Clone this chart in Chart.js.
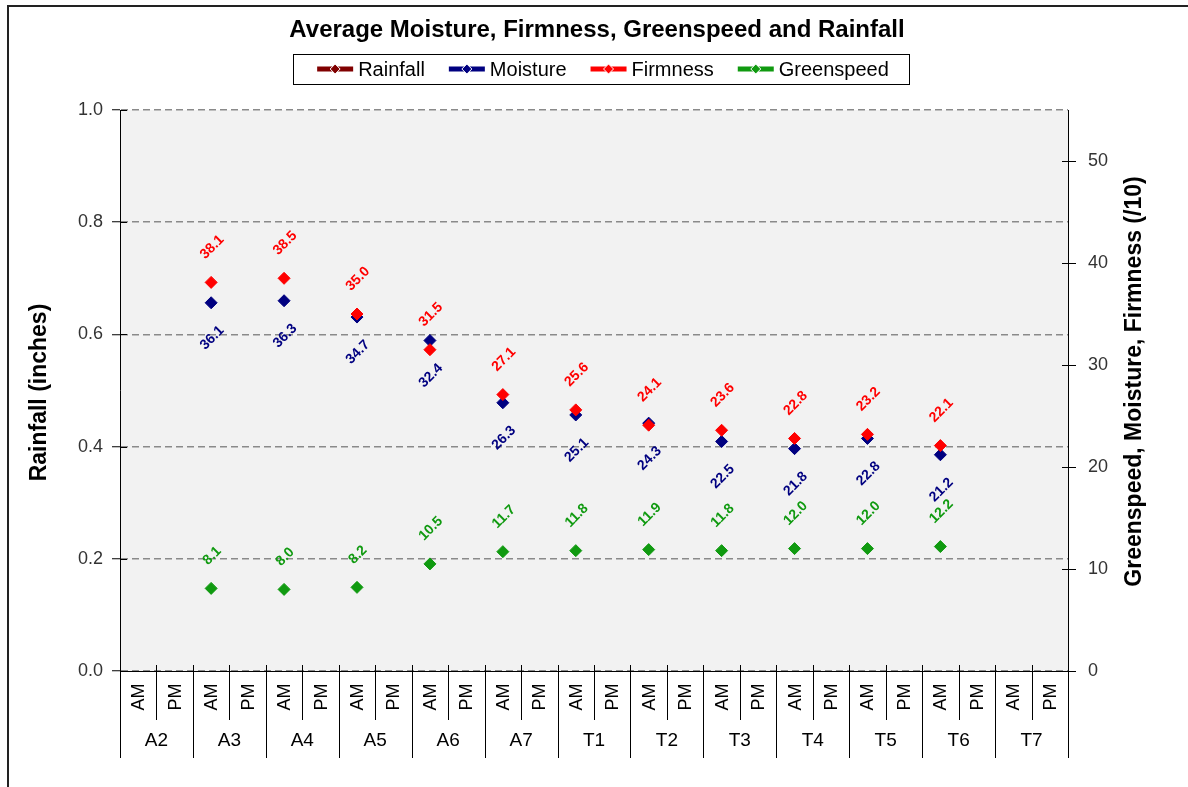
<!DOCTYPE html>
<html><head><meta charset="utf-8">
<script src="https://cdn.jsdelivr.net/npm/chart.js@4.4.1/dist/chart.umd.min.js"></script>
<style>html,body{margin:0;padding:0;background:#fff}canvas{display:block}</style>
</head><body>
<canvas id="c" width="1188" height="787"></canvas>
<script>
// ---------- DATA ----------
const groups = ['A2','A3','A4','A5','A6','A7','T1','T2','T3','T4','T5','T6','T7'];
const sessions = ['AM','PM'];
const rainfallAM   = [null,null,null,null,null,null,null,null,null,null,null,null,null];
const rainfallPM   = [null,null,null,null,null,null,null,null,null,null,null,null,null];
const moistureAM   = [null,36.1,36.3,34.7,32.4,26.3,25.1,24.3,22.5,21.8,22.8,21.2,null];
const moisturePM   = [null,null,null,null,null,null,null,null,null,null,null,null,null];
const firmnessAM   = [null,38.1,38.5,35.0,31.5,27.1,25.6,24.1,23.6,22.8,23.2,22.1,null];
const firmnessPM   = [null,null,null,null,null,null,null,null,null,null,null,null,null];
const greenspeedAM = [null,8.1,8.0,8.2,10.5,11.7,11.8,11.9,11.8,12.0,12.0,12.2,null];
const greenspeedPM = [null,null,null,null,null,null,null,null,null,null,null,null,null];
const leftTicks  = [0, 0.2, 0.4, 0.6, 0.8, 1.0];
const rightTicks = [0, 10, 20, 30, 40, 50];
const chartTitle = 'Average Moisture, Firmness, Greenspeed and Rainfall';
const leftTitle  = 'Rainfall (inches)';
const rightTitle = 'Greenspeed, Moisture, Firmness (/10)';

// ---------- BUILD ----------
const labels = groups.flatMap(g => sessions.map(s => g + ' ' + s));
const merge = (am, pm) => groups.flatMap((g, i) => [am[i], pm[i]]);
const FONT = '"Liberation Sans", Arial, sans-serif';

function series(label, data, axis, color, order, labelSide) {
  return {
    label, data, yAxisID: axis, order,
    type: 'line', showLine: false,
    borderColor: color, backgroundColor: color,
    pointStyle: 'rectRot', pointRadius: 6, pointHoverRadius: 6,
    pointBackgroundColor: color, pointBorderColor: color, pointBorderWidth: 1,
    labelSide
  };
}
const datasets = [
  series('Rainfall',   merge(rainfallAM, rainfallPM),     'y',  '#800000', 0, null),
  series('Moisture',   merge(moistureAM, moisturePM),     'y2', '#000080', 3, 'below'),
  series('Firmness',   merge(firmnessAM, firmnessPM),     'y2', '#FF0000', 2, 'above'),
  series('Greenspeed', merge(greenspeedAM, greenspeedPM), 'y2', '#109A10', 1, 'above')
];

const deco = {
  id: 'deco',
  beforeDraw(chart) {
    const {ctx, chartArea: a} = chart;
    ctx.save();
    ctx.fillStyle = '#ffffff';
    ctx.fillRect(0, 0, chart.width, chart.height);
    ctx.fillStyle = '#f2f2f2';
    ctx.fillRect(a.left, a.top, a.right - a.left, a.bottom - a.top);
    ctx.restore();
  },
  afterDatasetsDraw(chart) {
    const ctx = chart.ctx;
    ctx.save();
    ctx.font = 'bold 14px ' + FONT;
    ctx.textAlign = 'center';
    ctx.textBaseline = 'middle';
    chart.data.datasets.forEach((ds, di) => {
      if (!ds.labelSide) return;
      const meta = chart.getDatasetMeta(di);
      meta.data.forEach((pt, i) => {
        const v = ds.data[i];
        if (v === null || v === undefined) return;
        const txt = v.toFixed(1);
        const w = ctx.measureText(txt).width;
        const half = (w + 10) * Math.SQRT1_2 / 2;
        const off = 22 + half;
        const cy = ds.labelSide === 'above' ? pt.y - off : pt.y + off;
        ctx.save();
        ctx.translate(pt.x + 1, cy);
        ctx.rotate(-Math.PI / 4);
        ctx.fillStyle = ds.borderColor;
        ctx.fillText(txt, 0, 0);
        ctx.restore();
      });
    });
    ctx.restore();
  },
  afterDraw(chart) {
    const {ctx, chartArea: a} = chart;
    const xs = chart.scales.x;
    const n = labels.length;
    const half = (xs.getPixelForValue(1) - xs.getPixelForValue(0)) / 2;
    ctx.save();
    // tick marks crossing into the plot
    ctx.strokeStyle = '#000';
    ctx.lineWidth = 1;
    leftTicks.forEach(v => {
      const y = Math.round(chart.scales.y.getPixelForValue(v)) + 0.5;
      ctx.beginPath(); ctx.moveTo(a.left, y); ctx.lineTo(a.left + 7, y); ctx.stroke();
    });
    rightTicks.forEach(v => {
      const y = Math.round(chart.scales.y2.getPixelForValue(v)) + 0.5;
      ctx.beginPath(); ctx.moveTo(a.right - 6, y); ctx.lineTo(a.right, y); ctx.stroke();
    });
    // category boundaries
    for (let i = 0; i <= n; i++) {
      const bx = Math.round(i < n ? xs.getPixelForValue(i) - half : xs.getPixelForValue(n - 1) + half) + 0.5;
      const isGroup = i % 2 === 0;
      ctx.beginPath();
      ctx.moveTo(bx, a.bottom - 6);
      ctx.lineTo(bx, a.bottom + (isGroup ? 87 : 49));
      ctx.stroke();
    }
    // AM / PM
    ctx.fillStyle = '#000';
    ctx.font = '18px ' + FONT;
    ctx.textAlign = 'center';
    ctx.textBaseline = 'middle';
    labels.forEach((lab, i) => {
      const x = xs.getPixelForValue(i);
      ctx.save();
      ctx.translate(x + 1, a.bottom + 26);
      ctx.rotate(-Math.PI / 2);
      ctx.fillText(sessions[i % 2], 0, 0);
      ctx.restore();
    });
    // groups
    ctx.font = '19px ' + FONT;
    groups.forEach((g, gi) => {
      const x = (xs.getPixelForValue(gi * 2) + xs.getPixelForValue(gi * 2 + 1)) / 2;
      ctx.fillText(g, x, a.bottom + 70);
    });
    // title
    ctx.font = 'bold 24px ' + FONT;
    ctx.fillText(chartTitle, 597, 30);
    // axis titles
    ctx.font = 'bold 23px ' + FONT;
    ctx.save();
    ctx.translate(40, (a.top + a.bottom) / 2 + 2);
    ctx.rotate(-Math.PI / 2);
    ctx.fillText(leftTitle, 0, 0);
    ctx.restore();
    ctx.save();
    ctx.translate(1135, (a.top + a.bottom) / 2 - 9);
    ctx.rotate(-Math.PI / 2);
    ctx.fillText(rightTitle, 0, 0);
    ctx.restore();
    // legend
    ctx.font = '20px ' + FONT;
    const iconW = 40, gapIcon = 3, gapItem = 22;
    const items = chart.data.datasets.map(ds => ({text: ds.label, color: ds.borderColor, w: ctx.measureText(ds.label).width}));
    const total = items.reduce((s, it) => s + iconW + gapIcon + it.w, 0) + gapItem * (items.length - 1);
    let lx = 602 - total / 2;
    const cy = 69;
    ctx.strokeStyle = '#000';
    ctx.lineWidth = 1;
    ctx.strokeRect(Math.round(lx - 22) + 0.5, 54.5, Math.round(total + 42), 30);
    ctx.textAlign = 'left';
    items.forEach(it => {
      ctx.strokeStyle = it.color;
      ctx.lineWidth = 5;
      ctx.beginPath();
      ctx.moveTo(lx + 2, cy);
      ctx.lineTo(lx + iconW - 2, cy);
      ctx.stroke();
      const dx = lx + iconW / 2, r = 5;
      ctx.beginPath();
      ctx.moveTo(dx, cy - r); ctx.lineTo(dx + r, cy); ctx.lineTo(dx, cy + r); ctx.lineTo(dx - r, cy); ctx.closePath();
      ctx.fillStyle = it.color;
      ctx.fill();
      ctx.lineWidth = 1;
      ctx.strokeStyle = '#ffffff';
      ctx.stroke();
      ctx.fillStyle = '#000';
      ctx.fillText(it.text, lx + iconW + gapIcon, cy + 1);
      lx += iconW + gapIcon + it.w + gapItem;
    });
    // outer frame
    ctx.strokeStyle = '#222';
    ctx.lineWidth = 2;
    ctx.beginPath();
    ctx.moveTo(8, chart.height + 5);
    ctx.lineTo(8, 6);
    ctx.lineTo(chart.width + 5, 6);
    ctx.stroke();
    ctx.restore();
  }
};

new Chart(document.getElementById('c'), {
  type: 'line',
  data: {labels, datasets},
  options: {
    responsive: false,
    animation: false,
    devicePixelRatio: 1,
    events: [],
    layout: {padding: {top: 110, left: 0, right: 0, bottom: 0}},
    plugins: {legend: {display: false}, title: {display: false}, tooltip: {enabled: false}},
    scales: {
      x: {
        type: 'category', offset: true,
        grid: {display: false},
        ticks: {display: false},
        border: {display: true, color: '#000', width: 1},
        afterFit: s => { s.height = 116; }
      },
      y: {
        position: 'left', min: 0, max: 1,
        afterBuildTicks: s => { s.ticks = leftTicks.map(v => ({value: v})); },
        afterFit: s => { s.width = 120; },
        ticks: {
          padding: 9, color: '#333', font: {family: FONT, size: 18},
          callback: v => Number(v).toFixed(1)
        },
        grid: {color: '#8a8a8a', lineWidth: 1.5, tickLength: 8, tickColor: '#000', tickWidth: 1, tickBorderDash: []},
        border: {display: true, color: '#000', width: 1, dash: [7, 4]}
      },
      y2: {
        position: 'right', min: 0, max: 55,
        afterBuildTicks: s => { s.ticks = rightTicks.map(v => ({value: v})); },
        afterFit: s => { s.width = 120; },
        ticks: {padding: 12, color: '#333', font: {family: FONT, size: 18}},
        grid: {drawOnChartArea: false, tickLength: 8, color: '#000', tickColor: '#000'},
        border: {display: true, color: '#000', width: 1}
      }
    }
  },
  plugins: [deco]
});
</script>
</body></html>
